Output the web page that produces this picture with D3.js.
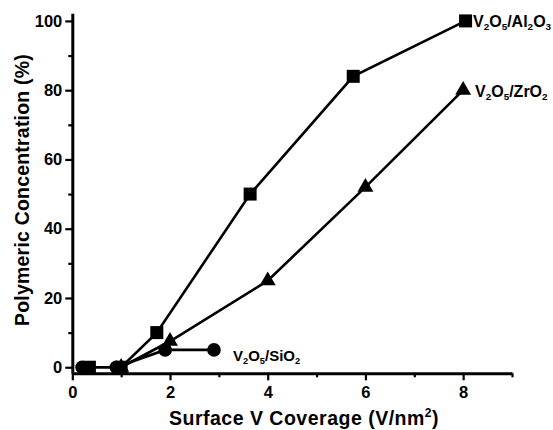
<!DOCTYPE html>
<html><head><meta charset="utf-8">
<script src="https://cdn.jsdelivr.net/npm/d3@7"></script>
<style>
body{margin:0;background:#fff;}
svg{display:block;font-family:"Liberation Sans",Arial,sans-serif;font-weight:bold;}
</style></head><body>
<svg id="c" width="553" height="430"></svg>
<script>
// Data
const al2o3X = [0.35, 1.0, 1.73, 3.64, 5.75, 8.05];
const al2o3Y = [0, 0, 10, 50, 84, 100];
const zro2X = [1.0, 2.0, 4.0, 6.0, 8.0];
const zro2Y = [0, 7.5, 25, 52, 80];
const sio2X = [0.2, 0.9, 1.9, 2.9];
const sio2Y = [0, 0, 5, 5];
const xTicks = [0, 2, 4, 6, 8];
const yTicks = [0, 20, 40, 60, 80, 100];

const svg = d3.select("#c");
const x = d3.scaleLinear().domain([0, 9]).range([72.3, 512]);
const y = d3.scaleLinear().domain([-1.75, 102.2]).range([373.3, 13.3]);

// axes
const xAx = svg.append("g").attr("transform", "translate(0,373.3)")
  .call(d3.axisBottom(x).tickValues(d3.range(0, 10, 1)).tickSize(7).tickSizeOuter(0)
    .tickFormat(d => xTicks.includes(d) ? d : ""));
const yAx = svg.append("g").attr("transform", "translate(72.3,0)")
  .call(d3.axisLeft(y).tickValues(d3.range(0, 101, 10)).tickSize(7).tickSizeOuter(0)
    .tickFormat(d => yTicks.includes(d) ? d : ""));
[xAx, yAx].forEach(g => {
  g.select(".domain").attr("stroke", "#000").attr("stroke-width", 3);
  g.selectAll(".tick line").attr("stroke", "#000").attr("stroke-width", 2.2);
  g.selectAll(".tick text").attr("fill", "#000").attr("font-size", 16.5).attr("font-weight", "bold")
    .attr("font-family", "Liberation Sans, Arial, sans-serif");
});
xAx.selectAll(".tick").filter(d => !xTicks.includes(d)).select("line").attr("y2", 4);
yAx.selectAll(".tick").filter(d => !yTicks.includes(d)).select("line").attr("x2", -4);
xAx.selectAll(".tick text").attr("y", 13).attr("dy", "0.71em");
yAx.selectAll(".tick text").attr("x", -10);

// titles
const xt = svg.append("text").attr("x", 304).attr("y", 425).attr("text-anchor", "middle")
  .attr("font-size", 19.5).attr("letter-spacing", 0.5);
xt.append("tspan").text("Surface V Coverage (V/nm");
xt.append("tspan").attr("dy", -8).attr("font-size", 12).text("2");
xt.append("tspan").attr("dy", 8).text(")");
svg.append("text").attr("transform", "translate(28.5,190) rotate(-90)").attr("text-anchor", "middle")
  .attr("font-size", 19.5).attr("letter-spacing", 0.2).text("Polymeric Concentration (%)");

const line = d3.line().x(d => x(d[0])).y(d => y(d[1]));
const zip = (a, b) => a.map((v, i) => [v, b[i]]);
const series = [
  {pts: zip(zro2X, zro2Y), shape: "tri"},
  {pts: zip(sio2X, sio2Y), shape: "circ"},
  {pts: zip(al2o3X, al2o3Y), shape: "sq"}
];
series.forEach(s => {
  svg.append("path").datum(s.pts).attr("d", line).attr("fill", "none")
    .attr("stroke", "#000").attr("stroke-width", 2.6);
});
series.forEach(s => {
  const g = svg.append("g");
  s.pts.forEach(p => {
    const cx = x(p[0]), cy = y(p[1]);
    if (s.shape === "sq") g.append("rect").attr("x", cx - 6.5).attr("y", cy - 6.5).attr("width", 13).attr("height", 13).attr("fill", "#000");
    else if (s.shape === "circ") g.append("circle").attr("cx", cx).attr("cy", cy).attr("r", 6.8).attr("fill", "#000");
    else g.append("path").attr("d", d3.symbol(d3.symbolTriangle, 110)()).attr("transform", `translate(${cx},${cy})`).attr("fill", "#000");
  });
});

// labels with subscripts
function chem(xp, yp, parts, size) {
  const t = svg.append("text").attr("x", xp).attr("y", yp).attr("font-size", size);
  parts.forEach(([s, sub]) => {
    t.append("tspan").attr("font-size", sub ? size * 0.62 : size)
      .attr("baseline-shift", sub ? "-30%" : null).text(s);
  });
}
chem(473, 27, [["V"], ["2", 1], ["O"], ["5", 1], ["/Al"], ["2", 1], ["O"], ["3", 1]], 16);
chem(475, 97, [["V"], ["2", 1], ["O"], ["5", 1], ["/ZrO"], ["2", 1]], 16);
chem(233, 361, [["V"], ["2", 1], ["O"], ["5", 1], ["/SiO"], ["2", 1]], 15);
</script>
</body></html>
